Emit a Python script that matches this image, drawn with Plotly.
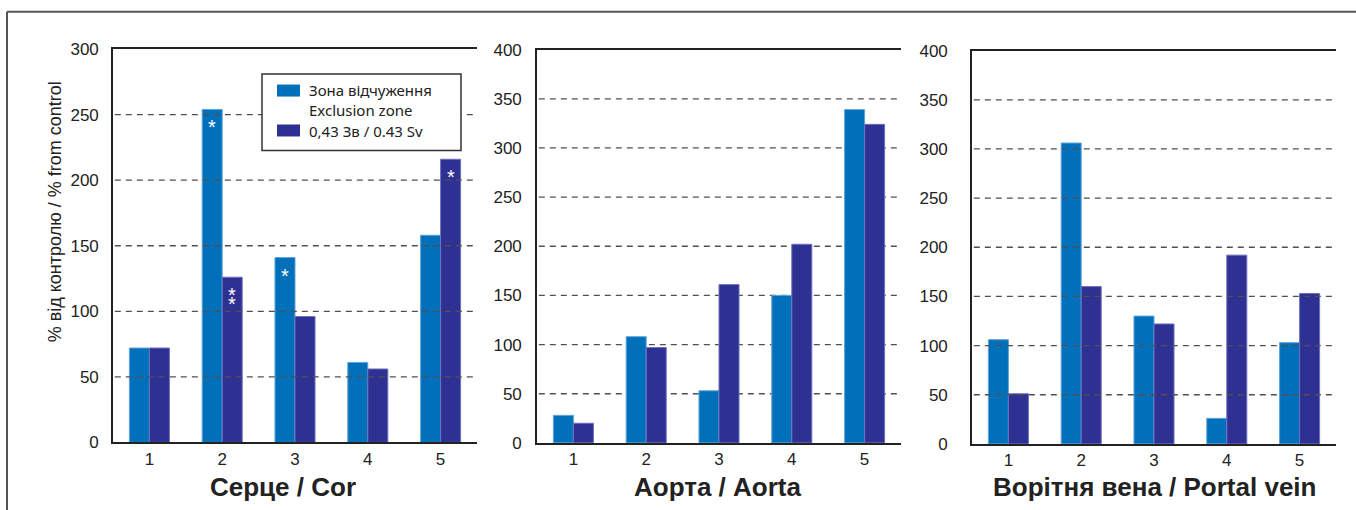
import plotly.graph_objects as go

# ---- data -------------------------------------------------------------
categories = [1, 2, 3, 4, 5]

heart_zone = [72, 254, 141, 61, 158]
heart_dose = [72, 126, 96, 56, 216]

aorta_zone = [28, 108, 53, 150, 339]
aorta_dose = [20, 97, 161, 202, 324]

portal_zone = [106, 306, 130, 26, 103]
portal_dose = [51, 160, 122, 192, 153]

heart_ticks = [0, 50, 100, 150, 200, 250, 300]
vessel_ticks = [0, 50, 100, 150, 200, 250, 300, 350, 400]

series_names = ["Зона відчуження<br>Exclusion zone", "0,43 Зв / 0.43 Sv"]
panel_titles = ["Серце / Cor", "Аорта / Aorta", "Ворітня вена / Portal vein"]
y_title = "% від контролю / % from control"

# significance marks: (panel, category, series index, number of stars)
stars = [
    (0, 2, 0, 1),
    (0, 2, 1, 2),
    (0, 3, 0, 1),
    (0, 5, 1, 1),
]

# ---- styling ----------------------------------------------------------
W, H = 1356, 510
C_ZONE = "#0070BA"
C_DOSE = "#2E3192"
EDGE_ZONE = "#5FA3DA"
EDGE_DOSE = "#6D70BF"
AX = "#222222"
GRID = "#505050"
NARROW = "Liberation Sans Narrow, Liberation Sans, Arial, sans-serif"
LEGEND_FONT = "Noto Sans, Open Sans, sans-serif"
BOLD = "Liberation Sans, Arial, sans-serif"

# vertical layout positions are given on a 510 px tall canvas; the usable
# drawing band of the page runs from TOP_PAD to TOP_PAD + BAND
TOP_PAD, BAND = 9.3, 491.9

def px_x(v):
    return v / W

def px_y(v):
    return 1 - (v - TOP_PAD) / BAND

# pixel boxes of the three plot areas: (left, right, top, bottom)
boxes = [(113, 477, 49.5, 443.5), (537, 901, 50, 444), (972, 1336, 51, 445)]
tick_gap = [9, 10, 19]
title_x = [283, 717, 1154]
grid_on_top = [True, False, True]

panels = [
    (heart_zone, heart_dose, heart_ticks),
    (aorta_zone, aorta_dose, vessel_ticks),
    (portal_zone, portal_dose, vessel_ticks),
]

fig = go.Figure()
shapes = []
annotations = []
BAR_OFF = 0.1375  # half of a single bar width in category units (bargap 0.45)

for i, (zone, dose, ticks) in enumerate(panels):
    n = "" if i == 0 else str(i + 1)
    xa, ya = "x" + n, "y" + n
    left, right, top, bottom = boxes[i]
    fig.add_trace(go.Bar(x=categories, y=zone, xaxis=xa, yaxis=ya,
                         marker=dict(color=C_ZONE, line=dict(color=EDGE_ZONE, width=1)),
                         name=series_names[0], showlegend=False))
    fig.add_trace(go.Bar(x=categories, y=dose, xaxis=xa, yaxis=ya,
                         marker=dict(color=C_DOSE, line=dict(color=EDGE_DOSE, width=1)),
                         name=series_names[1], showlegend=False))

    fig.update_layout(**{
        "xaxis" + n: dict(
            domain=[px_x(left), px_x(right)], anchor=ya,
            range=[0.5, 5.5], tickmode="array", tickvals=categories,
            ticktext=[str(c) for c in categories],
            showline=True, mirror=True, linecolor=AX, linewidth=1.6,
            ticks="", showgrid=False, zeroline=False,
            tickfont=dict(family=NARROW, size=17, color=AX),
        ),
        "yaxis" + n: dict(
            domain=[px_y(bottom), px_y(top)], anchor=xa,
            range=[ticks[0], ticks[-1]], tickmode="array", tickvals=ticks,
            showline=True, mirror=False, linecolor=AX, linewidth=1.6,
            ticks="outside", ticklen=tick_gap[i], tickcolor="rgba(0,0,0,0)",
            showgrid=False, zeroline=False,
            tickfont=dict(family=NARROW, size=17, color=AX),
        ),
    })

    # dashed reference lines at interior ticks
    for t in ticks[1:-1]:
        shapes.append(dict(type="line", xref=xa + " domain", yref=ya,
                           x0=0.005, x1=1, y0=t, y1=t,
                           layer="above" if grid_on_top[i] else "below",
                           line=dict(color=GRID, width=1.3, dash="6px,5px")))

    annotations.append(dict(text="<b>" + panel_titles[i] + "</b>", xref="paper", yref="paper",
                            x=px_x(title_x[i]), y=px_y(488), xanchor="center", yanchor="middle",
                            showarrow=False, font=dict(family=BOLD, size=26, color=AX)))

# white significance marks inside the bars; stacked stars use a small base
# font so the line pitch stays tight while each star keeps full size
STAR = "<span style='font-size:20px'>*</span>"
for p, cat, s, count in stars:
    n = "" if p == 0 else str(p + 1)
    vals = panels[p][s]
    xv = cat - BAR_OFF if s == 0 else cat + BAR_OFF
    annotations.append(dict(text="<br>".join([STAR] * count), xref="x" + n, yref="y" + n,
                            x=xv, y=vals[cat - 1], xanchor="center", yanchor="top",
                            yshift=-5, showarrow=False,
                            font=dict(family=BOLD, size=7, color="white")))

# y axis title
annotations.append(dict(text=y_title, xref="paper", yref="paper",
                        x=px_x(55), y=px_y(213), xanchor="center", yanchor="middle",
                        textangle=-90, showarrow=False,
                        font=dict(family=NARROW, size=18, color=AX)))

# legend box drawn inside the first panel
shapes.append(dict(type="rect", xref="paper", yref="paper", layer="above",
                   x0=px_x(262), x1=px_x(461), y0=px_y(151), y1=px_y(74.5),
                   fillcolor="white", line=dict(color="#333333", width=1.5)))
shapes.append(dict(type="rect", xref="paper", yref="paper", layer="above",
                   x0=px_x(277), x1=px_x(300), y0=px_y(97), y1=px_y(85),
                   fillcolor=C_ZONE, line=dict(width=0)))
shapes.append(dict(type="rect", xref="paper", yref="paper", layer="above",
                   x0=px_x(277), x1=px_x(300), y0=px_y(137), y1=px_y(125),
                   fillcolor=C_DOSE, line=dict(width=0)))
for txt, yc in zip(series_names, [100, 132]):
    annotations.append(dict(text=txt, xref="paper", yref="paper",
                            x=px_x(307), y=px_y(yc), xanchor="left", yanchor="middle",
                            align="left", showarrow=False,
                            font=dict(family=LEGEND_FONT, size=15, color=AX)))

# outer frame
shapes.append(dict(type="line", xref="paper", yref="paper", layer="above",
                   x0=px_x(7), x1=1.01, y0=px_y(12), y1=px_y(12),
                   line=dict(color="#555555", width=2)))
shapes.append(dict(type="line", xref="paper", yref="paper", layer="above",
                   x0=px_x(7), x1=px_x(7), y0=px_y(12), y1=-0.05,
                   line=dict(color="#555555", width=2)))

fig.update_layout(
    width=W, height=H,
    margin=dict(l=0, r=0, t=0, b=0),
    paper_bgcolor="white", plot_bgcolor="white",
    barmode="group", bargap=0.45, bargroupgap=0,
    shapes=shapes, annotations=annotations,
    showlegend=False,
)

fig.write_html("out.html")
